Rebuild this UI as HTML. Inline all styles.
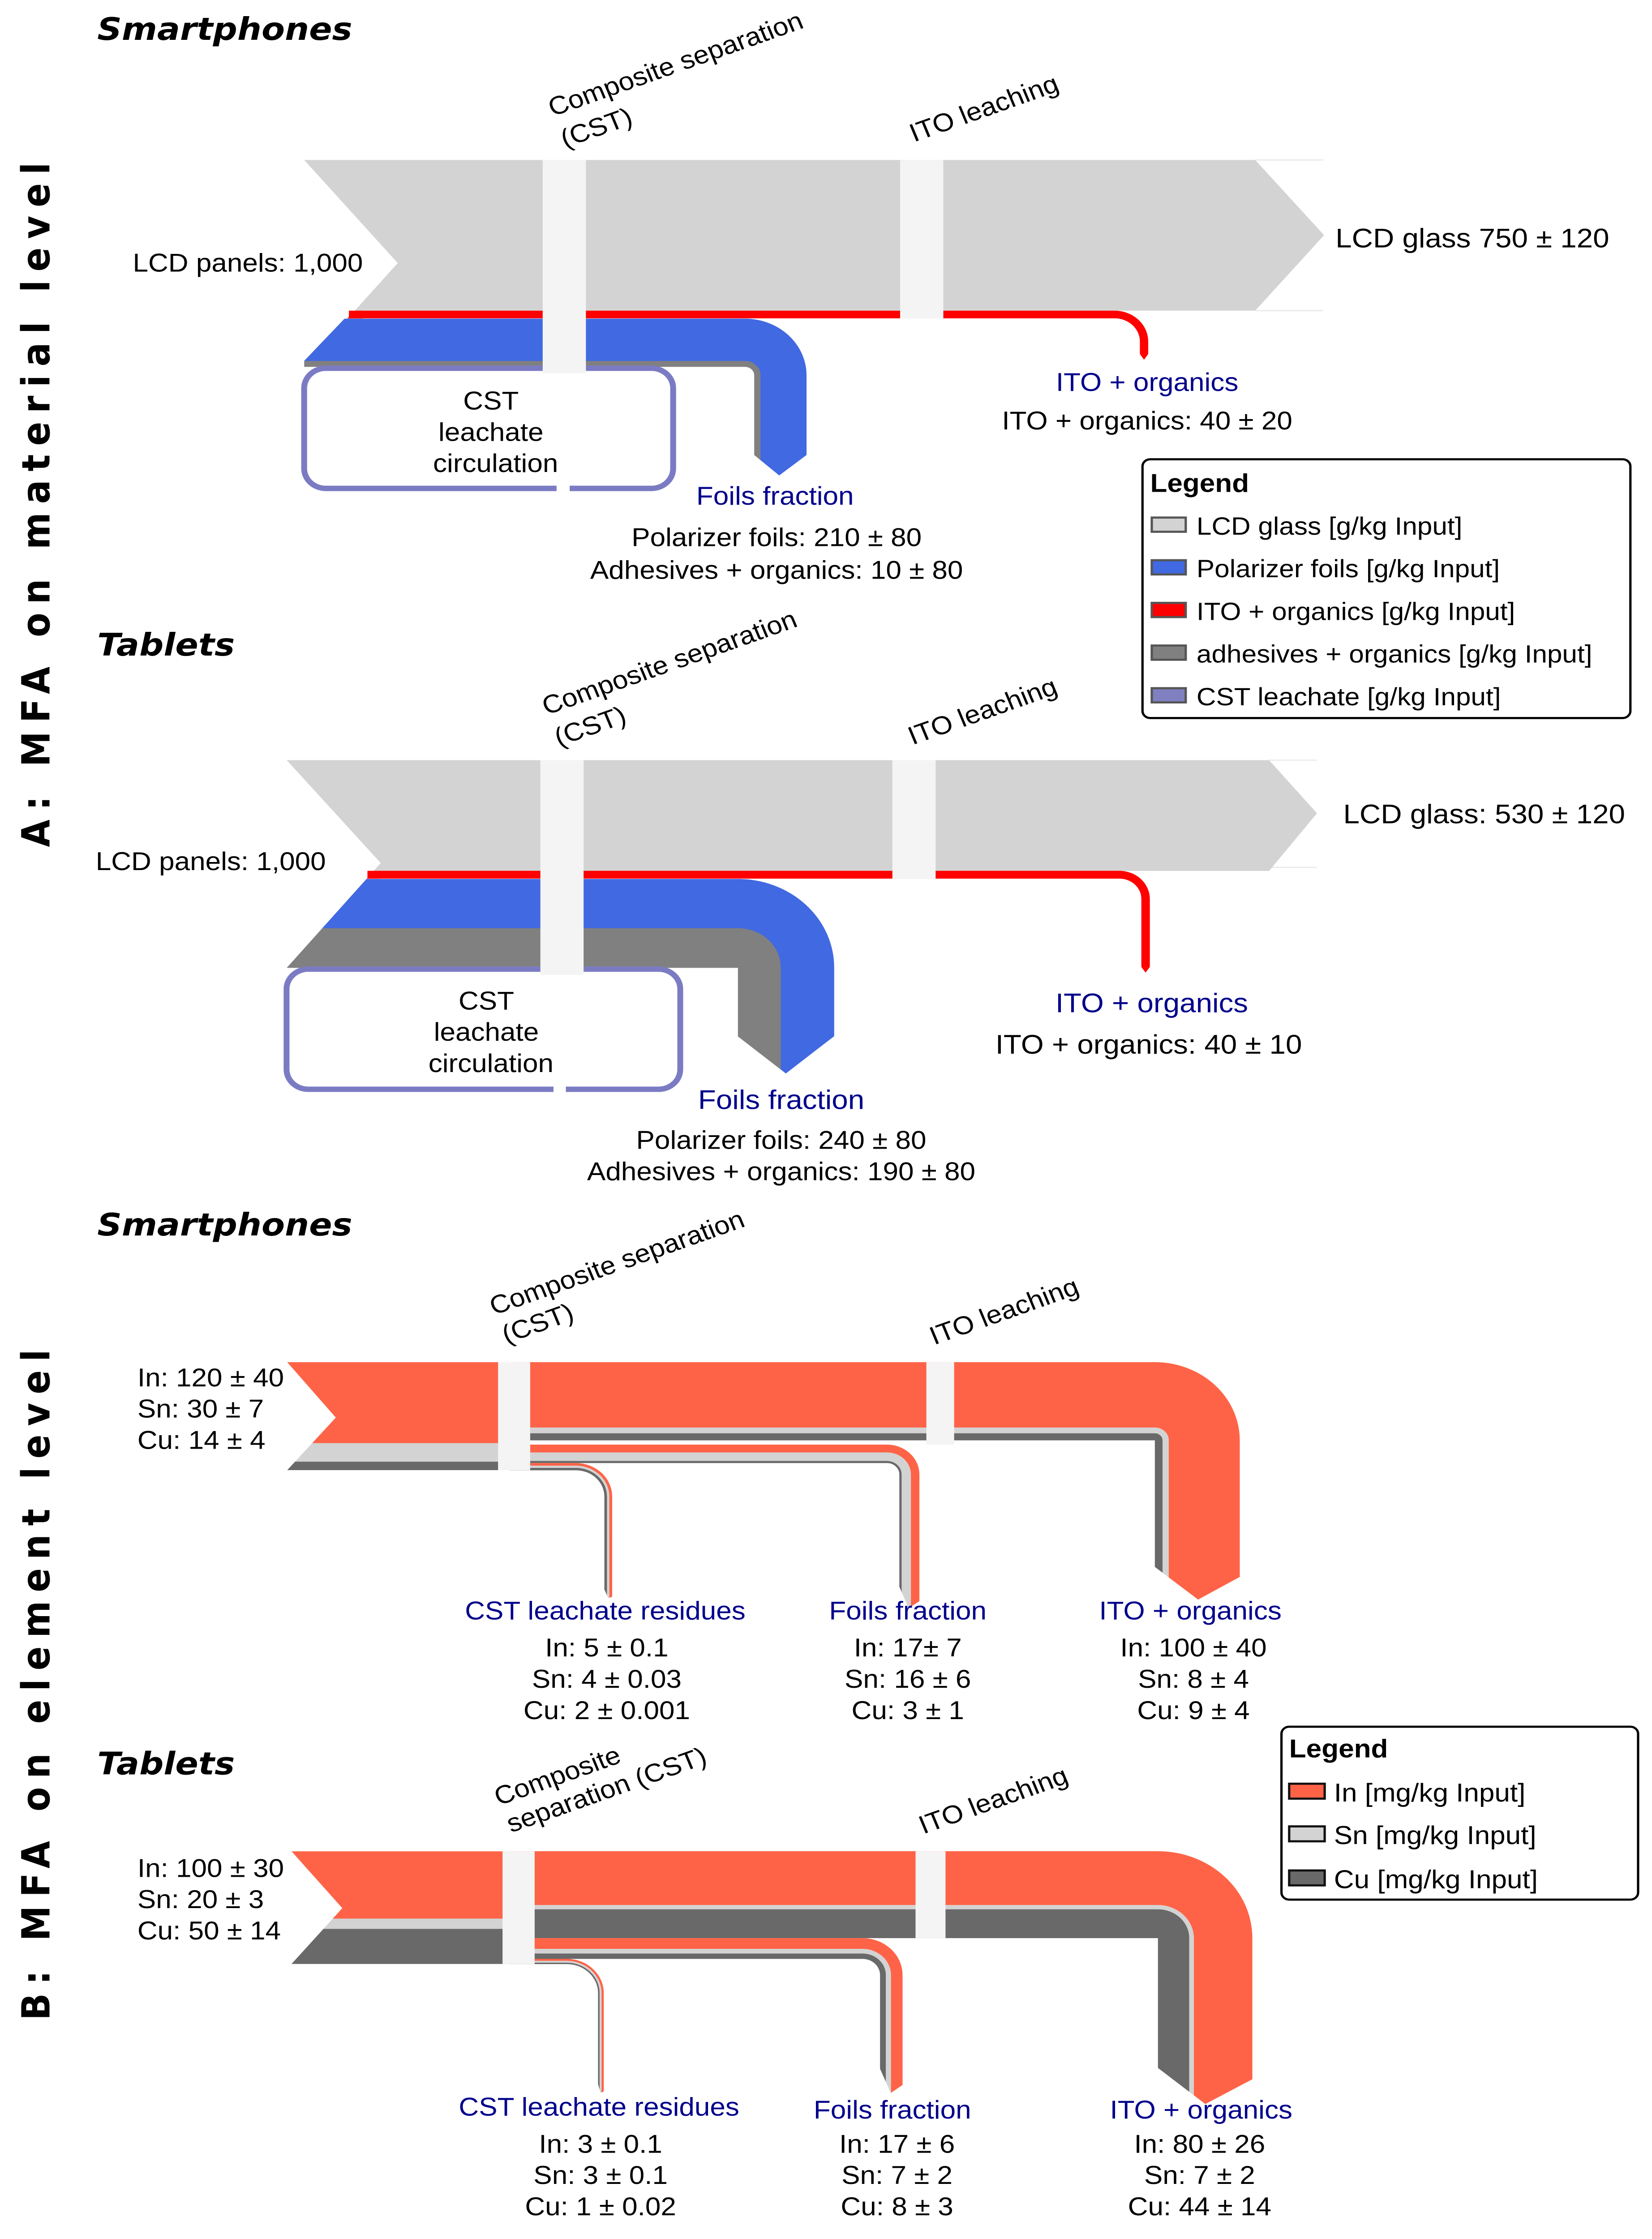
<!DOCTYPE html>
<html><head><meta charset="utf-8"><style>
html,body{margin:0;padding:0;background:#fff;width:100%;height:100%;overflow:hidden;}
svg{display:block;position:fixed;left:0;top:0;width:100vw;height:100vh;}
text{font-family:"Liberation Sans",Arial,sans-serif;}
.t{font-family:"DejaVu Sans","Liberation Sans",sans-serif;font-weight:bold;font-style:italic;font-size:22px;}
.s{font-family:"DejaVu Sans","Liberation Sans",sans-serif;font-weight:bold;font-size:25px;}
</style></head><body>
<svg viewBox="0 0 1070 1574.7" preserveAspectRatio="none" xmlns="http://www.w3.org/2000/svg">
<defs>
<clipPath id="cA1"><polygon points="257.6,185 600,185 600,320 522.4,320 504.7,334.4 488.5,320 197,320 197,253.8"/></clipPath>
<clipPath id="cA2"><polygon points="246.6,607 600,607 600,729 540,729 509,755 478,729 185,729 185.7,680.7"/></clipPath>
<clipPath id="cB1in"><polygon points="186,958 330,958 330,1034 186,1034 217.5,997"/></clipPath>
<clipPath id="cB1ito"><polygon points="330,950 815,950 815,1102 776,1125 748,1102 330,1102"/></clipPath>
<clipPath id="cB1foil"><polygon points="330,1010 610,1010 610,1116 588.5,1131 582.5,1116 330,1116"/></clipPath>
<clipPath id="cB1cst"><polygon points="330,1025 410,1025 410,1118 394,1124 391.5,1118 330,1118"/></clipPath>
<clipPath id="cB2in"><polygon points="188.8,1302 330,1302 330,1381.3 188.8,1381.3 221.7,1342"/></clipPath>
<clipPath id="cB2ito"><polygon points="330,1290 825,1290 825,1454.4 780.7,1479.8 750,1454.4 330,1454.4"/></clipPath>
<clipPath id="cB2foil"><polygon points="330,1360 600,1360 600,1455 577,1472 570,1455 330,1455"/></clipPath>
<clipPath id="cB2cst"><polygon points="330,1375 400,1375 400,1466 389,1472 387.4,1466 330,1466"/></clipPath>
</defs>
<rect width="1070" height="1575" fill="#fff"/>

<text class="s" transform="translate(32,352) rotate(-90)" text-anchor="middle" letter-spacing="6">A: MFA on material level</text>
<text class="s" transform="translate(32,1182) rotate(-90)" text-anchor="middle" letter-spacing="6">B: MFA on element level</text>

<!-- A Smartphones -->
<text class="t" x="63" y="28">Smartphones</text>
<line x1="813" y1="112.5" x2="857" y2="112.5" stroke="#e8e8e8" stroke-width="0.8"/>
<line x1="813" y1="218.5" x2="857" y2="218.5" stroke="#e8e8e8" stroke-width="0.8"/>
<polygon points="197,112.5 813,112.5 857.6,165.4 813,218.5 229.8,218.5 257.6,185" fill="#d3d3d3"/>
<g clip-path="url(#cA1)">
<path d="M190,255.9 H482.5 A8.1,8.1 0 0 1 490.6,264 V340" fill="none" stroke="#808080" stroke-width="4.2"/>
<path d="M190,239 H482.5 A25,25 0 0 1 507.5,264 V340" fill="none" stroke="#4169e1" stroke-width="29.8"/>
</g>
<path d="M226,221.2 H722 A19,19 0 0 1 741,240.2 V249" fill="none" stroke="#ff0000" stroke-width="5.4"/>
<polygon points="229.8,218.5 235,218.5 235,224 225,224" fill="#ff0000"/>
<polygon points="738.3,249 743.7,249 741,253" fill="#ff0000"/>
<rect x="197" y="259" width="239" height="84.5" rx="14" fill="#fff" stroke="#7b7bc4" stroke-width="3.8"/>
<rect x="360.5" y="340" width="8.5" height="6" fill="#fff"/>
<rect x="351.5" y="112.5" width="28" height="150" fill="#f4f4f4"/>
<rect x="583" y="112.5" width="28" height="111.5" fill="#f4f4f4"/>
<text x="318" y="288" font-size="18" text-anchor="middle">CST</text>
<text x="318" y="310" font-size="18" text-anchor="middle">leachate</text>
<text x="321" y="332" font-size="18" text-anchor="middle">circulation</text>
<text transform="translate(358,82) rotate(-21)" font-size="18">Composite separation</text>
<text transform="translate(366,104) rotate(-21)" font-size="18">(CST)</text>
<text transform="translate(592,100) rotate(-21)" font-size="18">ITO leaching</text>
<text x="86" y="191" font-size="18">LCD panels: 1,000</text>
<text x="865" y="174" font-size="19">LCD glass 750 ± 120</text>
<text x="743" y="275" font-size="18" fill="#00008b" text-anchor="middle">ITO + organics</text>
<text x="743" y="302" font-size="18" text-anchor="middle">ITO + organics: 40 ± 20</text>
<text x="502" y="355" font-size="18" fill="#00008b" text-anchor="middle">Foils fraction</text>
<text x="503" y="384" font-size="18" text-anchor="middle">Polarizer foils: 210 ± 80</text>
<text x="503" y="407" font-size="18" text-anchor="middle">Adhesives + organics: 10 ± 80</text>

<rect x="740" y="323" width="316" height="182" rx="5" fill="#fff" stroke="#000" stroke-width="1.5"/>
<text x="745" y="346" font-size="18" font-weight="bold">Legend</text>
<rect x="746" y="364" width="22" height="10" fill="#d3d3d3" stroke="#555" stroke-width="1.5"/>
<text x="775" y="376" font-size="17.5">LCD glass [g/kg Input]</text>
<rect x="746" y="394" width="22" height="10" fill="#4169e1" stroke="#555" stroke-width="1.5"/>
<text x="775" y="406" font-size="17.5">Polarizer foils [g/kg Input]</text>
<rect x="746" y="424" width="22" height="10" fill="#ff0000" stroke="#555" stroke-width="1.5"/>
<text x="775" y="436" font-size="17.5">ITO + organics [g/kg Input]</text>
<rect x="746" y="454" width="22" height="10" fill="#808080" stroke="#555" stroke-width="1.5"/>
<text x="775" y="466" font-size="17.5">adhesives + organics [g/kg Input]</text>
<rect x="746" y="484" width="22" height="10" fill="#8080c0" stroke="#555" stroke-width="1.5"/>
<text x="775" y="496" font-size="17.5">CST leachate [g/kg Input]</text>

<!-- A Tablets -->
<text class="t" x="63" y="461">Tablets</text>
<line x1="822" y1="534.6" x2="853" y2="534.6" stroke="#e8e8e8" stroke-width="0.8"/>
<line x1="822" y1="610" x2="853" y2="610" stroke="#e8e8e8" stroke-width="0.8"/>
<polygon points="185.7,534.6 822,534.6 853,572 822,612.5 242,612.5 246.6,607" fill="#d3d3d3"/>
<g clip-path="url(#cA2)">
<path d="M180,666.65 H478 A14,14 0 0 1 492,680.7 V770" fill="none" stroke="#808080" stroke-width="28.1"/>
<path d="M180,635.5 H478 A45,45 0 0 1 523,680.7 V770" fill="none" stroke="#4169e1" stroke-width="34.6"/>
</g>
<path d="M238,615.2 H725 A17,17 0 0 1 742,632.2 V680" fill="none" stroke="#ff0000" stroke-width="5.5"/>
<polygon points="242,612.5 246,612.5 246,618 237.5,618" fill="#ff0000"/>
<polygon points="739.2,680 744.8,680 742,684" fill="#ff0000"/>
<rect x="185.6" y="681.6" width="255" height="84.5" rx="14" fill="#fff" stroke="#7b7bc4" stroke-width="3.8"/>
<rect x="358.5" y="763" width="8" height="6" fill="#fff"/>
<rect x="350" y="534.6" width="28" height="151" fill="#f4f4f4"/>
<rect x="578" y="534.6" width="28" height="83.4" fill="#f4f4f4"/>
<text x="315" y="710" font-size="18" text-anchor="middle">CST</text>
<text x="315" y="732" font-size="18" text-anchor="middle">leachate</text>
<text x="318" y="754" font-size="18" text-anchor="middle">circulation</text>
<text transform="translate(354,503) rotate(-21)" font-size="18">Composite separation</text>
<text transform="translate(362,525) rotate(-21)" font-size="18">(CST)</text>
<text transform="translate(591,524) rotate(-21)" font-size="18">ITO leaching</text>
<text x="62" y="612" font-size="18">LCD panels: 1,000</text>
<text x="870" y="579" font-size="19">LCD glass: 530 ± 120</text>
<text x="746" y="712" font-size="19" fill="#00008b" text-anchor="middle">ITO + organics</text>
<text x="744" y="741" font-size="19" text-anchor="middle">ITO + organics: 40 ± 10</text>
<text x="506" y="780" font-size="19" fill="#00008b" text-anchor="middle">Foils fraction</text>
<text x="506" y="808" font-size="18" text-anchor="middle">Polarizer foils: 240 ± 80</text>
<text x="506" y="830" font-size="18" text-anchor="middle">Adhesives + organics: 190 ± 80</text>

<!-- B Smartphones -->
<text class="t" x="63" y="869">Smartphones</text>
<g clip-path="url(#cB1in)">
<rect x="180" y="958" width="160" height="57" fill="#ff6347"/>
<rect x="180" y="1015" width="160" height="13" fill="#d3d3d3"/>
<rect x="180" y="1028" width="160" height="6" fill="#696969"/>
</g>
<g clip-path="url(#cB1ito)">
<path d="M330,1010.5 H748 A2.5,2.5 0 0 1 750.5,1013 V1140" fill="none" stroke="#696969" stroke-width="5"/>
<path d="M330,1006 H748 A7,7 0 0 1 755,1013 V1140" fill="none" stroke="#d3d3d3" stroke-width="4"/>
<path d="M330,981 H748 A32,32 0 0 1 780,1013 V1140" fill="none" stroke="#ff6347" stroke-width="46"/>
</g>
<g clip-path="url(#cB1foil)">
<path d="M330,1028.25 H574.5 A8.75,8.75 0 0 1 583.25,1037 V1140" fill="none" stroke="#696969" stroke-width="1.5"/>
<path d="M330,1024.5 H574.5 A12.5,12.5 0 0 1 587,1037 V1140" fill="none" stroke="#d3d3d3" stroke-width="6"/>
<path d="M330,1018.75 H574.5 A18.25,18.25 0 0 1 592.75,1037 V1140" fill="none" stroke="#ff6347" stroke-width="5.5"/>
</g>
<g clip-path="url(#cB1cst)">
<path d="M330,1033.2 H373 A19.3,19.3 0 0 1 392.3,1052.5 V1130" fill="none" stroke="#696969" stroke-width="1.7"/>
<path d="M330,1031.5 H373 A21,21 0 0 1 394,1052.5 V1130" fill="none" stroke="#d3d3d3" stroke-width="1.7"/>
<path d="M330,1029.9 H373 A22.6,22.6 0 0 1 395.6,1052.5 V1130" fill="none" stroke="#ff6347" stroke-width="1.8"/>
</g>
<rect x="322.6" y="958" width="20.8" height="76" fill="#f4f4f4"/>
<rect x="600" y="958" width="18" height="58" fill="#f4f4f4"/>
<text transform="translate(320,925) rotate(-21)" font-size="18">Composite separation</text>
<text transform="translate(328,945) rotate(-21)" font-size="18">(CST)</text>
<text transform="translate(605,946) rotate(-21)" font-size="18">ITO leaching</text>
<text x="89" y="975" font-size="18">In: 120 ± 40</text>
<text x="89" y="997" font-size="18">Sn: 30 ± 7</text>
<text x="89" y="1019" font-size="18">Cu: 14 ± 4</text>
<text x="392" y="1139" font-size="18" fill="#00008b" text-anchor="middle">CST leachate residues</text>
<text x="393" y="1165" font-size="18" text-anchor="middle">In: 5 ± 0.1</text>
<text x="393" y="1187" font-size="18" text-anchor="middle">Sn: 4 ± 0.03</text>
<text x="393" y="1209" font-size="18" text-anchor="middle">Cu: 2 ± 0.001</text>
<text x="588" y="1139" font-size="18" fill="#00008b" text-anchor="middle">Foils fraction</text>
<text x="588" y="1165" font-size="18" text-anchor="middle">In: 17± 7</text>
<text x="588" y="1187" font-size="18" text-anchor="middle">Sn: 16 ± 6</text>
<text x="588" y="1209" font-size="18" text-anchor="middle">Cu: 3 ± 1</text>
<text x="771" y="1139" font-size="18" fill="#00008b" text-anchor="middle">ITO + organics</text>
<text x="773" y="1165" font-size="18" text-anchor="middle">In: 100 ± 40</text>
<text x="773" y="1187" font-size="18" text-anchor="middle">Sn: 8 ± 4</text>
<text x="773" y="1209" font-size="18" text-anchor="middle">Cu: 9 ± 4</text>

<!-- Legend B -->
<rect x="830" y="1214.4" width="231" height="121.6" rx="5" fill="#fff" stroke="#000" stroke-width="1.5"/>
<text x="835" y="1236" font-size="18" font-weight="bold">Legend</text>
<rect x="835" y="1254.5" width="23" height="10.5" fill="#ff6347" stroke="#111" stroke-width="1.5"/>
<text x="864" y="1267" font-size="18">In [mg/kg Input]</text>
<rect x="835" y="1284.5" width="23" height="10.5" fill="#d3d3d3" stroke="#111" stroke-width="1.5"/>
<text x="864" y="1297" font-size="18">Sn [mg/kg Input]</text>
<rect x="835" y="1315.5" width="23" height="10.5" fill="#696969" stroke="#111" stroke-width="1.5"/>
<text x="864" y="1328" font-size="18">Cu [mg/kg Input]</text>

<!-- B Tablets -->
<text class="t" x="63" y="1248">Tablets</text>
<g clip-path="url(#cB2in)">
<rect x="180" y="1302" width="160" height="47.4" fill="#ff6347"/>
<rect x="180" y="1349.4" width="160" height="7.2" fill="#d3d3d3"/>
<rect x="180" y="1356.6" width="160" height="24.7" fill="#696969"/>
</g>
<g clip-path="url(#cB2ito)">
<path d="M330,1352.95 H750 A10.15,10.15 0 0 1 760.15,1363.1 V1490" fill="none" stroke="#696969" stroke-width="20.3"/>
<path d="M330,1341.35 H750 A21.75,21.75 0 0 1 771.75,1363.1 V1490" fill="none" stroke="#d3d3d3" stroke-width="2.9"/>
<path d="M330,1320.9 H750 A42.2,42.2 0 0 1 792.2,1363.1 V1490" fill="none" stroke="#ff6347" stroke-width="37.9"/>
</g>
<g clip-path="url(#cB2foil)">
<path d="M330,1375.8 H558.6 A13.3,13.3 0 0 1 571.9,1389.1 V1480" fill="none" stroke="#696969" stroke-width="3.8"/>
<path d="M330,1372.25 H558.6 A16.85,16.85 0 0 1 575.45,1389.1 V1480" fill="none" stroke="#d3d3d3" stroke-width="3.3"/>
<path d="M330,1366.85 H558.6 A22.25,22.25 0 0 1 580.85,1389.1 V1480" fill="none" stroke="#ff6347" stroke-width="7.5"/>
</g>
<g clip-path="url(#cB2cst)">
<path d="M330,1380.8 H367 A20.9,20.9 0 0 1 387.9,1401.7 V1480" fill="none" stroke="#696969" stroke-width="1.1"/>
<path d="M330,1379.7 H367 A22,22 0 0 1 389,1401.7 V1480" fill="none" stroke="#d3d3d3" stroke-width="1.3"/>
<path d="M330,1378.35 H367 A23.35,23.35 0 0 1 390.35,1401.7 V1480" fill="none" stroke="#ff6347" stroke-width="1.4"/>
</g>
<rect x="325.5" y="1302" width="20.8" height="79.3" fill="#f4f4f4"/>
<rect x="593" y="1302" width="19.4" height="61.1" fill="#f4f4f4"/>
<text transform="translate(323,1270) rotate(-21)" font-size="18">Composite</text>
<text transform="translate(331,1289) rotate(-21)" font-size="18">separation (CST)</text>
<text transform="translate(598,1290) rotate(-21)" font-size="18">ITO leaching</text>
<text x="89" y="1320" font-size="18">In: 100 ± 30</text>
<text x="89" y="1342" font-size="18">Sn: 20 ± 3</text>
<text x="89" y="1364" font-size="18">Cu: 50 ± 14</text>
<text x="388" y="1488" font-size="18" fill="#00008b" text-anchor="middle">CST leachate residues</text>
<text x="389" y="1514" font-size="18" text-anchor="middle">In: 3 ± 0.1</text>
<text x="389" y="1536" font-size="18" text-anchor="middle">Sn: 3 ± 0.1</text>
<text x="389" y="1558" font-size="18" text-anchor="middle">Cu: 1 ± 0.02</text>
<text x="578" y="1490" font-size="18" fill="#00008b" text-anchor="middle">Foils fraction</text>
<text x="581" y="1514" font-size="18" text-anchor="middle">In: 17 ± 6</text>
<text x="581" y="1536" font-size="18" text-anchor="middle">Sn: 7 ± 2</text>
<text x="581" y="1558" font-size="18" text-anchor="middle">Cu: 8 ± 3</text>
<text x="778" y="1490" font-size="18" fill="#00008b" text-anchor="middle">ITO + organics</text>
<text x="777" y="1514" font-size="18" text-anchor="middle">In: 80 ± 26</text>
<text x="777" y="1536" font-size="18" text-anchor="middle">Sn: 7 ± 2</text>
<text x="777" y="1558" font-size="18" text-anchor="middle">Cu: 44 ± 14</text>
</svg>
</body></html>
